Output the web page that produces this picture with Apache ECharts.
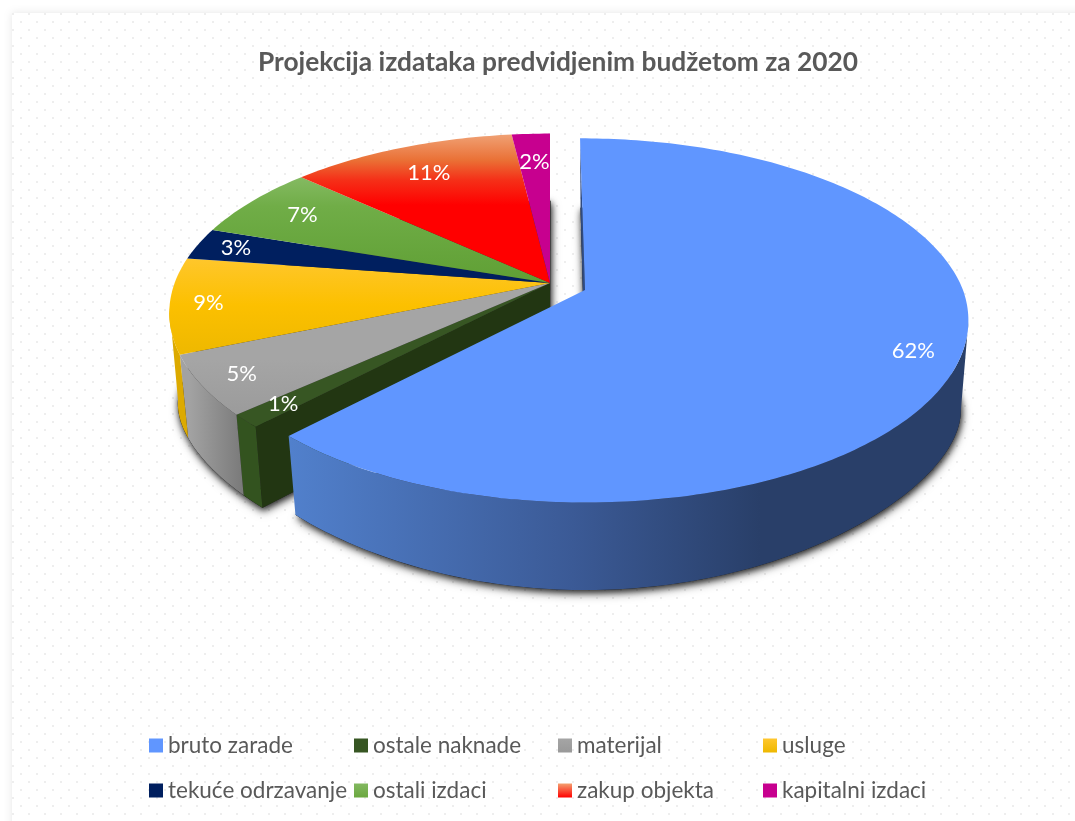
<!DOCTYPE html>
<html>
<head>
<meta charset="utf-8">
<style>html,body{margin:0;padding:0;background:#fff}#chart{width:1075px;height:821px}</style>
<script src="https://cdn.jsdelivr.net/npm/echarts@6/dist/echarts.min.js"></script>
</head>
<body>
<div id="chart"></div>
<script>
var categories = ['bruto zarade', 'ostale naknade', 'materijal', 'usluge', 'tekuće odrzavanje', 'ostali izdaci', 'zakup objekta', 'kapitalni izdaci'];
// read from the slice edges, labels round these to whole percents
var values = [62.1, 1.2, 5.4, 8.6, 2.9, 6.6, 11.3, 1.9];

// how far out along the slice the percent label sits
var labelDist = [0.89, 0.89, 0.895, 0.9, 0.89, 0.82, 0.79, 0.79];
// legend grid
var legendX = [149, 354, 558, 763];
var legendY = [734, 779];

var total = values.reduce(function (a, b) { return a + b; }, 0);

// projection of the tilted pie
var RX = 378, RY = 177, PERSP = 0.167;
var RX_LOW = 370, LOW_SHIFT_X = 0.5, APEX_DEPTH = 77;
var APEX_MAIN = [550, 283], APEX_BLUE = [585, 290], BLUE_SKEW = 5.8;
var MAIN_SCALE_X = 0.993, MAIN_SCALE_Y = 0.985;
// the outer wall only shows between these angles
var WALL_FROM = 100, WALL_TO = 262;

function grad(y0, y1, stops) {
  return new echarts.graphic.LinearGradient(0, y0, 0, y1, stops, true);
}
function local(c0, c1) {
  return new echarts.graphic.LinearGradient(0, 0, 0, 1, [{offset: 0, color: c0}, {offset: 1, color: c1}]);
}
var topFill = [
  '#6096ff',
  '#375623',
  grad(360, 420, [{offset: 0, color: '#a5a5a5'}, {offset: 1, color: '#9a9a9a'}]),
  grad(255, 355, [{offset: 0, color: '#ffc72f'}, {offset: 0.5, color: '#fcc000'}, {offset: 1, color: '#eeb800'}]),
  '#001f5f',
  grad(175, 280, [{offset: 0, color: '#86bb64'}, {offset: 0.3, color: '#70ad47'}, {offset: 1, color: '#60a035'}]),
  grad(133, 205, [{offset: 0, color: '#f0a478'}, {offset: 0.38, color: '#ea7035'}, {offset: 0.65, color: '#f53018'}, {offset: 1, color: '#ff0000'}]),
  '#c7008f'
];
var wallFill = [
  new echarts.graphic.LinearGradient(290, 0, 760, 0, [{offset: 0, color: '#5180cc'}, {offset: 0.6, color: '#3b5a96'}, {offset: 1, color: '#293f69'}], true),
  '#33531f',
  new echarts.graphic.LinearGradient(190, 0, 245, 0, [{offset: 0, color: '#a2a2a2'}, {offset: 1, color: '#787878'}], true),
  '#dcaa00', '#001a50', '#5a9030', '#c00000', '#a00070'
];
var legendFill = ['#6096ff', '#375623', local('#a5a5a5', '#999999'), local('#ffc72f', '#eeb800'), '#001f5f', local('#82b860', '#6ba83f'), local('#f4a070', '#ff0000'), '#c7008f'];

// bottom rim drop below the apex, fitted to the wall heights in the picture
function lowDrop(w) {
  return w >= 0 ? 98.6 + 121 * w + 39 * w * w : 98.6 + 211 * w;
}
function point(apex, deg, frac, low, isBlue) {
  var a = deg * Math.PI / 180;
  var u = Math.sin(a) * frac, v = -Math.cos(a) * frac;
  var s = 1 / (1 - PERSP * v);
  var sx = isBlue ? 1 : MAIN_SCALE_X, sy = isBlue ? 1 : MAIN_SCALE_Y;
  var x = apex[0] + (low ? RX_LOW : RX) * sx * u * s + (isBlue && v < 0 ? BLUE_SKEW * v * s : 0) + (low ? LOW_SHIFT_X : 0);
  var y = apex[1] + (low ? lowDrop(v * s) : RY * sy * v * s);
  return [x, y];
}
function arc(apex, d0, d1, low, isBlue) {
  var pts = [], n = Math.max(2, Math.ceil(Math.abs(d1 - d0)));
  for (var i = 0; i <= n; i++) {
    pts.push(point(apex, d0 + (d1 - d0) * i / n, 1, low, isBlue));
  }
  return pts;
}
function poly(points, fill, z2, extra) {
  var style = {fill: fill};
  for (var k in (extra || {})) style[k] = extra[k];
  return {type: 'polygon', shape: {points: points}, style: style, z2: z2, silent: true};
}

function sliceRender(index) {
  return function () {
    var before = 0;
    for (var i = 0; i < index; i++) before += values[i];
    var d0 = before / total * 360, d1 = (before + values[index]) / total * 360;
    var isBlue = index === 0;
    var apex = isBlue ? APEX_BLUE : APEX_MAIN;
    var top = arc(apex, d0, d1, false, isBlue), low = arc(apex, d0, d1, true, isBlue);
    var apexLow = [apex[0], apex[1] + APEX_DEPTH];
    var zWall = isBlue ? 4 : 2, zTop = isBlue ? 5 : 3;
    var children = [];

    // soft shadow under the body, a wide faint one and a tight dark one
    children.push(poly(low.concat([apexLow]), '#333', 1, {
      shadowBlur: 10, shadowColor: 'rgba(0,0,0,0.5)', shadowOffsetX: 1, shadowOffsetY: 4
    }));
    children.push(poly(low.concat([apexLow]), '#333', 1, {
      shadowBlur: 6, shadowColor: 'rgba(0,0,0,0.7)', shadowOffsetX: 1, shadowOffsetY: 2
    }));
    // outer wall
    var w0 = Math.max(d0, WALL_FROM), w1 = Math.min(d1, WALL_TO);
    if (w1 > w0) {
      var wallTop = arc(apex, w0, w1, false, isBlue), wallLow = arc(apex, w0, w1, true, isBlue);
      children.push(poly(wallTop.concat(wallLow.reverse()), wallFill[index], zWall));
    }
    if (isBlue) {
      // thin cut face at 12 o'clock
      children.push(poly([apex, top[0], low[0], apexLow], '#2f4a80', zWall));
    }
    if (index === 1) {
      // cut face left open by the pulled out slice
      children.push(poly([apex, top[0], low[0], apexLow], '#223612', zWall));
    }
    // top face
    children.push(poly([apex].concat(top), topFill[index], zTop));
    // percent label
    var lp = point(apex, (d0 + d1) / 2, labelDist[index], false, false);
    children.push({
      type: 'text', z2: 8, silent: true,
      style: {
        text: Math.round(values[index] / total * 100) + '%',
        x: lp[0], y: lp[1], fill: '#fff', align: 'center', verticalAlign: 'middle',
        font: '22px Lato'
      }
    });
    return {type: 'group', children: children};
  };
}

// dotted paper behind the chart
var tile = document.createElement('canvas');
tile.width = 16; tile.height = 16;
var ctx = tile.getContext('2d');
ctx.fillStyle = '#fff';
ctx.fillRect(0, 0, 16, 16);
ctx.fillStyle = '#eeeeee';
ctx.fillRect(4, 5, 2, 2);
ctx.fillRect(12, 13, 2, 2);

var series = categories.map(function (name, i) {
  return {
    type: 'custom',
    name: name,
    coordinateSystem: 'none',
    data: [[values[i]]],
    itemStyle: {color: legendFill[i]},
    renderItem: sliceRender(i),
    animation: false
  };
});

var legends = categories.map(function (name, i) {
  return {
    data: [name],
    left: legendX[i % 4],
    top: legendY[Math.floor(i / 4)],
    padding: 0,
    itemWidth: 14,
    itemHeight: 14,
    icon: 'rect',
    selectedMode: false,
    textStyle: {fontFamily: 'Lato', fontSize: 22.5, color: '#595959'}
  };
});

var chart = echarts.init(document.getElementById('chart'));
chart.setOption({
  backgroundColor: '#fff',
  animation: false,
  title: {
    text: 'Projekcija izdataka predvidjenim budžetom za 2020',
    left: 258,
    top: 50,
    padding: 0,
    textStyle: {fontFamily: 'Lato', fontSize: 26.3, fontWeight: 'bold', color: '#595959'}
  },
  legend: legends,
  graphic: [{
    type: 'rect',
    silent: true,
    z: 0,
    shape: {x: 12, y: 13, width: 1100, height: 850},
    style: {
      fill: {image: tile, repeat: 'repeat'},
      shadowBlur: 8, shadowColor: 'rgba(0,0,0,0.1)'
    }
  }],
  series: series
});
</script>
</body>
</html>
